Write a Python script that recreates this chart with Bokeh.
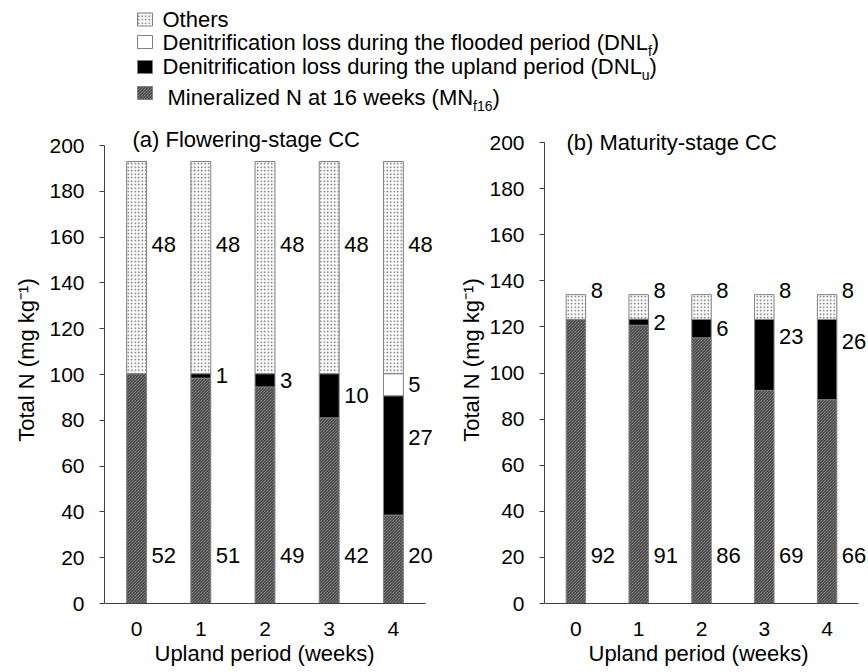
from bokeh.plotting import figure
from bokeh.layouts import column, row
from bokeh.models import Range1d, FixedTicker, ColumnDataSource, Label, Title
from bokeh.embed import file_html
from bokeh.resources import INLINE
from bokeh.core.properties import value

# ---------------- data ----------------
weeks = [0, 1, 2, 3, 4]
y_ticks = [0, 20, 40, 60, 80, 100, 120, 140, 160, 180, 200]

# (a) Flowering-stage CC: total N (mg/kg) and share of each pool (%)
total_a = 193.0
mn_a = [52, 51, 49, 42, 20]        # mineralized N at 16 weeks
dnlu_a = [0, 1, 3, 10, 27]         # denitrification loss, upland period
dnlf_a = [0, 0, 0, 0, 5]           # denitrification loss, flooded period
others_a = [48, 48, 48, 48, 48]

# (b) Maturity-stage CC
total_b = 134.0
mn_b = [92, 91, 86, 69, 66]
dnlu_b = [0, 2, 6, 23, 26]
dnlf_b = [0, 0, 0, 0, 0]
others_b = [8, 8, 8, 8, 8]

# ---------------- styling ----------------
FONT = "Liberation Sans"
AXIS_COL = "#404040"
EDGE_COL = "#808080"
BAR_W = 0.31
LEG_H = 116
PANEL_H = 672 - LEG_H
BOTTOM = 69

STYLES = {
    "mn": dict(fill_color="#9a9a9a", hatch_pattern="left_diagonal_line",
               hatch_color="#383838", hatch_scale=3, hatch_weight=1),
    "dnlu": dict(fill_color="black"),
    "dnlf": dict(fill_color="white"),
    "others": dict(fill_color="white", hatch_pattern="dot",
                   hatch_color="#6a6a6a", hatch_scale=3.5, hatch_weight=1),
}
ORDER = ["mn", "dnlu", "dnlf", "others"]


def label_y(layer, bottom, top):
    h = top - bottom
    mid = (bottom + top) / 2
    if layer == "mn":
        return 21.0
    if layer == "dnlu":
        return mid + (8 if h > 25 else 0)
    if layer == "others":
        return mid + 10 if h > 25 else top + 2
    return mid


def panel(title, total, pools, width, left, right, px_x, px_y, title_dx, title_dy,
          yal_standoff, xlabel_offset):
    frame_w = width - left - right
    frame_h = PANEL_H - BOTTOM
    p = figure(width=width, height=PANEL_H,
               x_range=Range1d(-0.5, -0.5 + frame_w / px_x),
               y_range=Range1d(0, frame_h / px_y),
               output_backend="svg", toolbar_location=None,
               min_border_left=left, min_border_right=right,
               min_border_top=0, min_border_bottom=BOTTOM)
    p.outline_line_color = None
    p.xgrid.visible = False
    p.ygrid.visible = False

    sums = [sum(pools[k][i] for k in ORDER) for i in range(len(weeks))]
    base = [0.0] * len(weeks)
    for key in ORDER:
        pct = pools[key]
        h = [pct[i] / sums[i] * total for i in range(len(weeks))]
        top = [base[i] + h[i] for i in range(len(weeks))]
        idx = [i for i in range(len(weeks)) if pct[i] > 0]
        src = ColumnDataSource(dict(
            x=[weeks[i] for i in idx],
            bottom=[base[i] for i in idx],
            top=[top[i] for i in idx],
            lx=[weeks[i] + BAR_W / 2 for i in idx],
            ly=[label_y(key, base[i], top[i]) for i in idx],
            txt=[str(pct[i]) for i in idx],
        ))
        p.vbar(x="x", bottom="bottom", top="top", width=BAR_W, source=src,
               line_color=EDGE_COL, line_width=1, **STYLES[key])
        p.text(x="lx", y="ly", text="txt", source=src, x_offset=5,
               text_font=value(FONT), text_font_size="22px",
               text_baseline="middle", text_align="left", text_color="black")
        base = top

    p.add_layout(Label(x=-0.5 + title_dx / px_x, y=200 + title_dy / px_y,
                       text=title, text_font=FONT, text_font_size="22px",
                       text_baseline="middle", text_align="left",
                       text_color="black"))

    xa = p.xaxis[0]
    xa.bounds = (-0.5, 4.5)
    xa.ticker = FixedTicker(ticks=weeks)
    xa.major_tick_out = 0
    xa.major_tick_in = 0
    xa.minor_tick_out = 0
    xa.minor_tick_in = 0
    xa.major_label_standoff = 18

    # x-axis title, centred under the axis line rather than the whole frame
    p.add_layout(Title(text="Upland period (weeks)", align="left", offset=xlabel_offset,
                       text_font=FONT, text_font_size="22px", text_font_style="normal",
                       text_color="black", standoff=0), "below")

    ya = p.yaxis[0]
    ya.bounds = (0, 200)
    ya.ticker = FixedTicker(ticks=y_ticks)
    ya.axis_label = "Total N (mg kg\u207b\u00b9)"
    ya.major_tick_out = 5
    ya.major_tick_in = 0
    ya.minor_tick_out = 0
    ya.minor_tick_in = 0
    ya.major_label_standoff = 15
    ya.axis_label_standoff = yal_standoff
    ya.axis_label_text_font = FONT
    ya.axis_label_text_font_size = "22px"
    ya.axis_label_text_font_style = "normal"
    ya.axis_label_text_color = "black"

    for ax in (xa, ya):
        ax.axis_line_color = AXIS_COL
        ax.major_tick_line_color = AXIS_COL
        ax.axis_line_width = 1
        ax.major_label_text_font = FONT
        ax.major_label_text_font_size = "21px"
        ax.major_label_text_color = "black"
    return p


pools_a = {"mn": mn_a, "dnlu": dnlu_a, "dnlf": dnlf_a, "others": others_a}
pools_b = {"mn": mn_b, "dnlu": dnlu_b, "dnlf": dnlf_b, "others": others_b}

pa = panel("(a) Flowering-stage CC", total_a, pools_a, width=440, left=104, right=4,
           px_x=64.2, px_y=2.29, title_dx=28, title_dy=6,
           yal_standoff=7, xlabel_offset=50)
pb = panel("(b) Maturity-stage CC", total_b, pools_b, width=428, left=104, right=0,
           px_x=62.8, px_y=2.305, title_dx=22, title_dy=0,
           yal_standoff=2, xlabel_offset=44)

# ---------------- legend strip ----------------
leg = figure(width=868, height=LEG_H, x_range=Range1d(0, 868), y_range=Range1d(LEG_H, 0),
             output_backend="svg", toolbar_location=None, min_border=0,
             x_axis_location=None, y_axis_location=None)
leg.outline_line_color = None
leg.xgrid.visible = False
leg.ygrid.visible = False

ARIAL_W = {' ': 278, '(': 333, ')': 333, '-': 333, 'D': 722, 'L': 556, 'M': 833,
           'N': 722, 'O': 778, 'a': 556, 'c': 500, 'd': 556, 'e': 556, 'f': 278,
           'g': 556, 'h': 556, 'i': 222, 'k': 500, 'l': 222, 'n': 556, 'o': 556,
           'p': 556, 'r': 333, 's': 500, 't': 278, 'u': 556, 'w': 722, 'z': 500}


def text_w(s, size):
    return sum(ARIAL_W.get(c, 556) for c in s) / 1000.0 * size


legend_rows = [
    ("others", 19, 162, 19, [("Others", False)]),
    ("dnlf", 41.5, 162, 42, [("Denitrification loss during the flooded period (DNL", False),
                            ("f", True), (")", False)]),
    ("dnlu", 66.5, 162, 66, [("Denitrification loss during the upland period (DNL", False),
                            ("u", True), (")", False)]),
    ("mn", 92.5, 167, 97, [("Mineralized N at 16 weeks (MN", False),
                          ("f16", True), (")", False)]),
]
for key, yc, tx, ty, pieces in legend_rows:
    leg.quad(left=[137], right=[152], top=[yc - 6.5], bottom=[yc + 6.5],
             line_color=EDGE_COL, line_width=1, **STYLES[key])
    x = tx
    for s, sub in pieces:
        size = 14 if sub else 22
        leg.text(x=[x], y=[ty + (8 if sub else 0)], text=[s],
                 text_font=value(FONT), text_font_size=f"{size}px",
                 text_baseline="middle", text_align="left", text_color="black")
        x += text_w(s, size)

layout = column(leg, row(pa, pb, spacing=0), spacing=0)
open("out.html", "w").write(file_html(layout, INLINE))
